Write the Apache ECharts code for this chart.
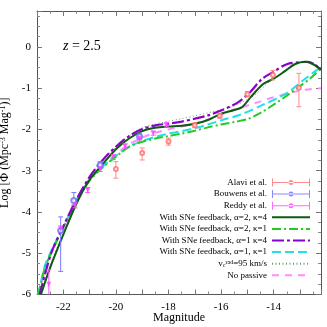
<!DOCTYPE html>
<html><head><meta charset="utf-8">
<script src="https://cdn.jsdelivr.net/npm/echarts/dist/echarts.min.js"></script>
<style>html,body{margin:0;padding:0;background:#fff}#c{width:327px;height:327px}</style>
</head><body><div id="c"></div>
<script>
// ---- observational data ----
const alaviMag = [-20.0, -19.0, -18.0, -17.0, -16.05, -15.0, -14.03, -13.04];
const alaviLog = [-2.96, -2.57, -2.29, -1.90, -1.67, -1.15, -0.68, -0.99];
const alaviLo  = [-3.18, -2.74, -2.38, -1.96, -1.73, -1.21, -0.80, -1.45];
const alaviHi  = [-2.78, -2.45, -2.21, -1.84, -1.61, -1.08, -0.57, -0.64];

const bouwMag = [-22.1, -21.6, -20.6, -19.1];
const bouwLog = [-4.45, -3.72, -2.86, -2.17];
const bouwLo  = [-5.44, -3.84, -2.94, -2.23];
const bouwHi  = [-4.12, -3.53, -2.78, -2.09];

const reddyMag = [-22.55, -22.1, -21.55, -21.07, -20.6, -20.1, -19.65, -19.1, -18.58, -18.08];
const reddyLog = [-5.75, -4.41, -3.83, -3.47, -2.95, -2.67, -2.41, -2.22, -2.09, -1.89];
const reddyLo  = [-7.0, -4.48, -3.90, -3.53, -3.02, -2.73, -2.47, -2.28, -2.14, -1.94];
const reddyHi  = [-5.40, -4.34, -3.76, -3.41, -2.88, -2.61, -2.35, -2.16, -2.04, -1.84];

// ---- model curves ----
const a2k4Mag = [-22.85,-22.5,-22.0,-21.5,-21.0,-20.5,-20.0,-19.5,-19.0,-18.5,-18.0,-17.5,-17.0,-16.5,-16.0,-15.5,-15.2,-14.85,-14.4,-14.0,-13.6,-13.2,-12.8,-12.5,-12.2];
const a2k4Log = [-6.0,-5.35,-4.55,-3.8,-3.22,-2.84,-2.48,-2.22,-2.04,-1.96,-1.93,-1.91,-1.86,-1.77,-1.62,-1.53,-1.46,-1.2,-0.9,-0.77,-0.6,-0.42,-0.36,-0.42,-0.55];

const a2k1Mag = [-22.95,-22.7,-22.5,-22.0,-21.5,-21.0,-20.5,-20.0,-19.5,-19.0,-18.5,-18.0,-17.5,-17.0,-16.5,-16.0,-15.5,-15.0,-14.5,-14.0,-13.5,-13.0,-12.6,-12.2];
const a2k1Log = [-6.0,-5.35,-5.05,-4.38,-3.74,-3.24,-2.92,-2.66,-2.42,-2.3,-2.22,-2.16,-2.1,-2.03,-1.95,-1.88,-1.82,-1.75,-1.6,-1.4,-1.18,-0.95,-0.76,-0.52];

const a1k4Mag = [-22.9,-22.45,-22.0,-21.5,-21.0,-20.5,-20.0,-19.5,-19.0,-18.5,-18.0,-17.5,-17.0,-16.5,-16.0,-15.6,-15.3,-14.9,-14.45,-14.0,-13.5,-13.0,-12.7,-12.45,-12.2];
const a1k4Log = [-6.0,-4.98,-4.35,-3.7,-3.15,-2.74,-2.42,-2.16,-1.99,-1.9,-1.86,-1.81,-1.74,-1.66,-1.54,-1.43,-1.32,-1.1,-0.78,-0.6,-0.42,-0.37,-0.36,-0.42,-0.55];

const a1k1Mag = [-22.95,-22.7,-22.5,-22.0,-21.5,-21.0,-20.5,-20.0,-19.5,-19.0,-18.5,-18.0,-17.5,-17.0,-16.5,-16.0,-15.3,-14.4,-13.5,-12.9,-12.4,-12.2];
const a1k1Log = [-6.0,-5.3,-5.0,-4.35,-3.72,-3.22,-2.9,-2.64,-2.42,-2.28,-2.18,-2.1,-2.04,-1.97,-1.88,-1.78,-1.65,-1.4,-1.12,-0.82,-0.58,-0.5];

const vcMag = [-22.85,-22.5,-22.0,-21.5,-21.0,-20.5,-20.0,-19.5,-19.0,-18.5,-18.0,-17.5,-17.0,-16.5,-16.0,-15.6,-15.0,-14.6,-14.3,-14.0,-13.6,-13.2,-12.8,-12.5,-12.2];
const vcLog = [-6.0,-5.3,-4.5,-3.76,-3.16,-2.74,-2.43,-2.16,-1.96,-1.87,-1.8,-1.74,-1.67,-1.6,-1.52,-1.45,-1.28,-1.1,-0.92,-0.78,-0.6,-0.43,-0.37,-0.42,-0.53];

const npMag = [-22.95,-22.5,-22.0,-21.5,-21.0,-20.5,-20.0,-19.5,-19.0,-18.5,-18.0,-17.5,-17.0,-16.5,-16.0,-15.5,-15.0,-14.5,-14.0,-13.3,-12.8,-12.2];
const npLog = [-6.0,-5.05,-4.38,-3.74,-3.22,-2.88,-2.6,-2.36,-2.2,-2.08,-2.0,-1.93,-1.86,-1.76,-1.64,-1.52,-1.42,-1.32,-1.22,-1.1,-1.04,-1.0];

// ---- axis ticks ----
const xMin = -23, xMax = -12.2, xStep = 1;
const yMin = -6, yMax = 0.87, yStep = 1;

const zip = (a, b) => a.map((v, i) => [v, b[i]]);
const zip3 = (a, b, c) => a.map((v, i) => [v, b[i], c[i]]);

function errSeries(color, mags, lo, hi) {
  return {
    type: 'custom', silent: true, clip: true, z: 3,
    data: zip3(mags, lo, hi),
    renderItem: function (params, api) {
      const x = api.value(0);
      const a = api.coord([x, api.value(1)]);
      const b = api.coord([x, api.value(2)]);
      const w = 2.5;
      const st = { stroke: color, lineWidth: 1 };
      return { type: 'group', children: [
        { type: 'line', shape: { x1: a[0], y1: a[1], x2: b[0], y2: b[1] }, style: st },
        { type: 'line', shape: { x1: a[0]-w, y1: a[1], x2: a[0]+w, y2: a[1] }, style: st },
        { type: 'line', shape: { x1: b[0]-w, y1: b[1], x2: b[0]+w, y2: b[1] }, style: st }
      ]};
    }
  };
}

function lineSeries(name, mags, vals, color, width, dash, z) {
  return {
    name: name, type: 'line', data: zip(mags, vals), symbol: 'none',
    smooth: 0.3, clip: true, z: z || 2,
    lineStyle: { color: color, width: width, type: dash },
    itemStyle: { color: color }
  };
}

const serif = 'Liberation Serif';
const barIcon = 'path://M0 4.5H38V5.5H0Z M0 1H1V9H0Z M37 1H38V9H37Z M16.5 5A2.5 2.5 0 1 0 21.5 5A2.5 2.5 0 1 0 16.5 5Z';

const names = {
  a2k4: 'With SNe feedback, \u03b1=2, \u03ba=4',
  a2k1: 'With SNe feedback, \u03b1=2, \u03ba=1',
  a1k4: 'With SNe feedback, \u03b1=1 \u03ba=4',
  a1k1: 'With SNe feedback, \u03b1=1, \u03ba=1',
  vc: 'vc95',
  np: 'No passive'
};
const lineItem = n => ({ name: n, itemStyle: { opacity: 0 } });

const chart = echarts.init(document.getElementById('c'), null, { renderer: 'canvas' });

const axisCommon = {
  min: xMin, max: xMax, interval: xStep,
  axisLine: { show: true, onZero: false, lineStyle: { color: '#555', width: 1 } },
  axisTick: { show: true, inside: true, length: 5, lineStyle: { color: '#777' } },
  minorTick: { show: true, splitNumber: 2, length: 3, lineStyle: { color: '#888' } },
  splitLine: { show: false }
};
const yCommon = {
  min: yMin, max: yMax, interval: yStep,
  axisLine: { show: true, onZero: false, lineStyle: { color: '#555', width: 1 } },
  axisTick: { show: true, inside: true, length: 5, lineStyle: { color: '#777' } },
  minorTick: { show: true, splitNumber: 4, length: 3, lineStyle: { color: '#888' } },
  splitLine: { show: false }
};

chart.setOption({
  animation: false,
  backgroundColor: '#fff',
  grid: { left: 37, right: 6, top: 11, bottom: 32.5, containLabel: false, outerBoundsMode: 'none' },
  xAxis: [
    Object.assign({}, axisCommon, {
      type: 'value', position: 'bottom',
      name: 'Magnitude', nameLocation: 'middle', nameGap: 17, nameMoveOverlap: false,
      nameTextStyle: { fontFamily: serif, fontSize: 12, color: '#000' },
      axisLabel: { show: true, margin: 7, fontFamily: serif, fontSize: 11, color: '#000',
        formatter: v => (Math.abs(v - Math.round(v)) < 1e-6 && Math.round(v) % 2 === 0) ? String(Math.round(v)) : '' ,
        showMinLabel: true, showMaxLabel: false }
    }),
    Object.assign({}, axisCommon, { type: 'value', position: 'top', axisLabel: { show: false } })
  ],
  yAxis: [
    Object.assign({}, yCommon, {
      type: 'value', position: 'left',
      name: 'Log [\u03a6 (Mpc{s|-3} Mag{s|-1})]', nameLocation: 'middle', nameGap: 23,
      nameTextStyle: { fontFamily: serif, fontSize: 12, color: '#000',
        rich: { s: { fontFamily: serif, fontSize: 8, color: '#000', verticalAlign: 'top', padding: [0,0,5,0] } } },
      axisLabel: { show: true, margin: 6, fontFamily: serif, fontSize: 11, color: '#000',
        formatter: v => (Math.abs(v - Math.round(v)) < 1e-6) ? String(Math.round(v)) : '',
        showMaxLabel: false }
    }),
    Object.assign({}, yCommon, { type: 'value', position: 'right', axisLabel: { show: false } })
  ],
  legend: {
    orient: 'vertical', right: 16, top: 178, align: 'right',
    itemWidth: 38, itemHeight: 10, itemGap: 2.6,
    padding: 0,
    textStyle: { fontFamily: serif, fontSize: 9, color: '#000',
      rich: {
        n: { fontFamily: serif, fontSize: 9, color: '#000' },
        sb: { fontFamily: serif, fontSize: 6, color: '#000', verticalAlign: 'bottom' },
        sp: { fontFamily: serif, fontSize: 6, color: '#000', verticalAlign: 'top' }
      } },
    formatter: function (name) {
      if (name === 'vc95') return '{n|v}{sb|c}{sp|rad}{n|=95 km/s}';
      return name;
    },
    data: [
      { name: 'Alavi et al.', icon: barIcon },
      { name: 'Bouwens et al.', icon: barIcon },
      { name: 'Reddy et al.', icon: barIcon },
      lineItem(names.a2k4), lineItem(names.a2k1), lineItem(names.a1k4), lineItem(names.a1k1),
      lineItem(names.vc), lineItem(names.np)
    ],
    selectedMode: false
  },
  graphic: [
    { type: 'text', left: 63, top: 39,
      style: { text: '{i|z} = 2.5', fontFamily: serif, fontSize: 14, fill: '#000',
        rich: { i: { fontFamily: serif, fontStyle: 'italic', fontSize: 14, fill: '#000' } } } }
  ],
  series: [
    lineSeries(names.vc, vcMag, vcLog, '#6a9a6a', 1, [1, 2.5], 1),
    lineSeries(names.np, npMag, npLog, '#ff8cff', 2, [7, 6], 1),
    lineSeries(names.a1k1, a1k1Mag, a1k1Log, '#22e0e8', 2, [9, 4], 2),
    lineSeries(names.a2k1, a2k1Mag, a2k1Log, '#22cc22', 2, [9, 3, 2, 3], 2),
    lineSeries(names.a1k4, a1k4Mag, a1k4Log, '#8a00cc', 2.2, [12, 3, 3, 3], 2),
    lineSeries(names.a2k4, a2k4Mag, a2k4Log, '#0d5a12', 2, 'solid', 2),
    errSeries('#ff8a8a', alaviMag, alaviLo, alaviHi),
    errSeries('#7a7aff', bouwMag, bouwLo, bouwHi),
    errSeries('#ff55ff', reddyMag, reddyLo, reddyHi),
    { name: 'Alavi et al.', type: 'scatter', data: zip(alaviMag, alaviLog), symbol: 'emptyCircle', symbolSize: 4,
      itemStyle: { color: '#ff6f6f', borderWidth: 1 }, z: 4 },
    { name: 'Bouwens et al.', type: 'scatter', data: zip(bouwMag, bouwLog), symbol: 'emptyCircle', symbolSize: 5,
      itemStyle: { color: '#6a6aff', borderWidth: 1 }, z: 4 },
    { name: 'Reddy et al.', type: 'scatter', data: zip(reddyMag, reddyLog), symbol: 'triangle', symbolRotate: 180, symbolSize: 5,
      itemStyle: { color: '#ff44ff' }, z: 4 }
  ]
});
</script>
</body></html>
